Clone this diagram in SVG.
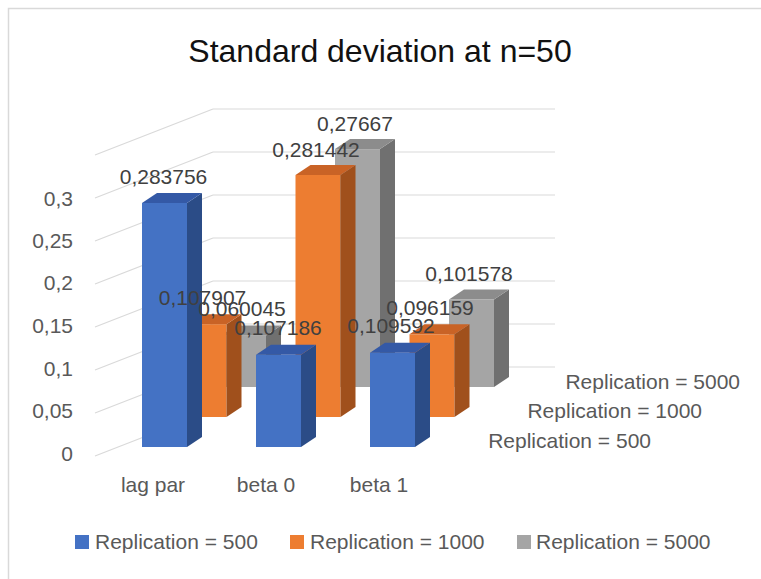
<svg xmlns="http://www.w3.org/2000/svg" width="761" height="579" viewBox="0 0 761 579">
<style>
text{font-family:"Liberation Sans",Arial,sans-serif;}
.t{font-size:32px;fill:#111;text-anchor:middle;}
.ax{font-size:21px;fill:#595959;}
.dl{font-size:21px;fill:#404040;text-anchor:middle;}
.grid line{stroke:#d9d9d9;stroke-width:1.2;}
.bf{fill:#4472C4}.bs{fill:#2b4c87}.bt{fill:#3459a6}
.of{fill:#ED7D31}.os{fill:#a0501c}.ot{fill:#c96326}
.gf{fill:#A5A5A5}.gs{fill:#707070}.gt{fill:#8c8c8c}
</style>
<rect x="0" y="0" width="761" height="579" fill="#fff"/>
<rect x="8.5" y="8.5" width="770" height="590" fill="#fff" stroke="#d9d9d9" stroke-width="1.5"/>
<text class="t" x="380" y="62">Standard deviation at n=50</text>
<g id="gridlines" class="grid">
<line x1="95" y1="456" x2="213" y2="410"/>
<line x1="95" y1="413" x2="213" y2="367"/>
<line x1="95" y1="370" x2="213" y2="324"/>
<line x1="95" y1="327" x2="213" y2="281"/>
<line x1="95" y1="284" x2="213" y2="238"/>
<line x1="95" y1="241" x2="213" y2="195"/>
<line x1="95" y1="198" x2="213" y2="152"/>
<line x1="95" y1="155" x2="213" y2="109"/>
<line x1="213" y1="367" x2="555" y2="367"/>
<line x1="213" y1="324" x2="555" y2="324"/>
<line x1="213" y1="281" x2="555" y2="281"/>
<line x1="213" y1="238" x2="555" y2="238"/>
<line x1="213" y1="195" x2="555" y2="195"/>
<line x1="213" y1="152" x2="555" y2="152"/>
<line x1="213" y1="109" x2="555" y2="109"/>
</g>
<g id="value-axis" class="ax" text-anchor="end">
<text x="73" y="206">0,3</text>
<text x="73" y="248">0,25</text>
<text x="73" y="290">0,2</text>
<text x="73" y="333">0,15</text>
<text x="73" y="376">0,1</text>
<text x="73" y="418">0,05</text>
<text x="73" y="461">0</text>
</g>
<g id="series-5000">
<g id="bar-5000-lagpar"><rect class="gf" x="221" y="335.4" width="45" height="51.6"/><polygon class="gs" points="266,335.4 281,325.4 281,377 266,387"/><polygon class="gt" points="221,335.4 236,325.4 281,325.4 266,335.4"/></g>
<g id="bar-5000-beta0"><rect class="gf" x="335" y="149.1" width="45" height="237.9"/><polygon class="gs" points="380,149.1 395,139.1 395,377 380,387"/><polygon class="gt" points="335,149.1 350,139.1 395,139.1 380,149.1"/></g>
<g id="bar-5000-beta1"><rect class="gf" x="449" y="299.6" width="45" height="87.4"/><polygon class="gs" points="494,299.6 509,289.6 509,377 494,387"/><polygon class="gt" points="449,299.6 464,289.6 509,289.6 494,299.6"/></g>
</g>
<g id="series-1000">
<g id="bar-1000-lagpar"><rect class="of" x="181.5" y="324.2" width="45" height="92.8"/><polygon class="os" points="226.5,324.2 241.5,314.2 241.5,407 226.5,417"/><polygon class="ot" points="181.5,324.2 196.5,314.2 241.5,314.2 226.5,324.2"/></g>
<g id="bar-1000-beta0"><rect class="of" x="295.5" y="175" width="45" height="242"/><polygon class="os" points="340.5,175 355.5,165 355.5,407 340.5,417"/><polygon class="ot" points="295.5,175 310.5,165 355.5,165 340.5,175"/></g>
<g id="bar-1000-beta1"><rect class="of" x="409.5" y="334.3" width="45" height="82.7"/><polygon class="os" points="454.5,334.3 469.5,324.3 469.5,407 454.5,417"/><polygon class="ot" points="409.5,334.3 424.5,324.3 469.5,324.3 454.5,334.3"/></g>
</g>
<g id="series-500">
<g id="bar-500-lagpar"><rect class="bf" x="142" y="203" width="45" height="244"/><polygon class="bs" points="187,203 202,193 202,437 187,447"/><polygon class="bt" points="142,203 157,193 202,193 187,203"/></g>
<g id="bar-500-beta0"><rect class="bf" x="256" y="354.8" width="45" height="92.2"/><polygon class="bs" points="301,354.8 316,344.8 316,437 301,447"/><polygon class="bt" points="256,354.8 271,344.8 316,344.8 301,354.8"/></g>
<g id="bar-500-beta1"><rect class="bf" x="370" y="352.7" width="45" height="94.3"/><polygon class="bs" points="415,352.7 430,342.7 430,437 415,447"/><polygon class="bt" points="370,352.7 385,342.7 430,342.7 415,352.7"/></g>
</g>
<g id="data-labels" class="dl">
<text x="163.5" y="184">0,283756</text>
<text x="202.5" y="305">0,107907</text>
<text x="242" y="316">0,060045</text>
<text x="278" y="335">0,107186</text>
<text x="316" y="157">0,281442</text>
<text x="355" y="131">0,27667</text>
<text x="391" y="333">0,109592</text>
<text x="430" y="315">0,096159</text>
<text x="469" y="281">0,101578</text>
</g>
<g id="category-axis" class="ax" text-anchor="middle">
<text x="153" y="492">lag par</text>
<text x="266" y="492">beta 0</text>
<text x="379" y="492">beta 1</text>
</g>
<g id="series-axis" class="ax" text-anchor="end">
<text x="740" y="389">Replication = 5000</text>
<text x="702" y="418">Replication = 1000</text>
<text x="651" y="448">Replication = 500</text>
</g>
<g id="legend" class="ax">
<rect class="bf" x="75" y="535" width="14" height="14"/>
<text x="95" y="549">Replication = 500</text>
<rect class="of" x="290" y="535" width="14" height="14"/>
<text x="310" y="549">Replication = 1000</text>
<rect class="gf" x="517" y="535" width="14" height="14"/>
<text x="536" y="549">Replication = 5000</text>
</g>
</svg>
